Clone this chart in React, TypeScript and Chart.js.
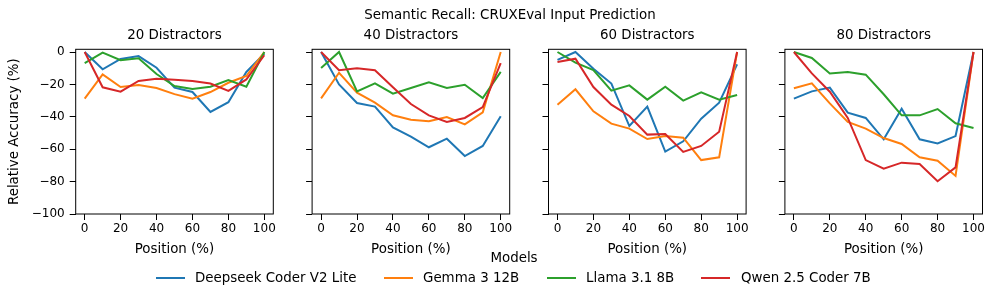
import React, { useEffect, useRef } from "react";
import { Chart, registerables } from "chart.js";

Chart.register(...registerables);

// ---------- data ----------
const positions = [0, 10, 20, 30, 40, 50, 60, 70, 80, 90, 100];
const xTicks = [0, 20, 40, 60, 80, 100];
const yTicks = [-100, -80, -60, -40, -20, 0];
const panelTitles = ["20 Distractors", "40 Distractors", "60 Distractors", "80 Distractors"];
const modelNames = ["Deepseek Coder V2 Lite", "Gemma 3 12B", "Llama 3.1 8B", "Qwen 2.5 Coder 7B"];
const modelColors = ["#1f77b4", "#ff7f0e", "#2ca02c", "#d62728"];

const deepseek20 = [0, -10.7, -4.3, -2.5, -9.7, -22, -24.7, -37, -31, -12.3, -1];
const gemma20 = [-28.8, -13.8, -21.6, -20.4, -22.2, -26, -28.8, -24.7, -19, -14.8, 0];
const llama20 = [-6.8, -0.4, -5.1, -3.9, -13.6, -21, -22.8, -21.4, -17.3, -21.4, 0];
const qwen20 = [0, -21.8, -24.5, -17.9, -16.5, -17.1, -17.9, -19.5, -24, -16.9, -2];

const deepseek40 = [0, -20, -31.5, -33.7, -46.5, -52.3, -58.8, -53.5, -64.2, -58, -39.7];
const gemma40 = [-28.6, -12.8, -25.1, -31.3, -39.1, -41.8, -42.8, -40.1, -44.7, -37.2, 0];
const llama40 = [-9.9, 0, -24.3, -19.3, -25.7, -22.2, -18.7, -22.2, -20.2, -28.4, -12.3];
const qwen40 = [0, -11.3, -10.1, -11.3, -21.8, -32.1, -39.1, -43.2, -40.7, -34, -6.8];

const deepseek60 = [-4.9, 0, -10.3, -19.5, -45.7, -33.7, -61.5, -55.1, -41.2, -31.3, -7.6];
const gemma60 = [-32.5, -23, -36.6, -44.2, -47.3, -53.7, -51.9, -52.9, -66.7, -65, 0];
const llama60 = [0, -6.6, -11.1, -23.9, -20.6, -29.4, -21.4, -30, -24.9, -29.4, -26.5];
const qwen60 = [-6.2, -4.1, -21.6, -32.5, -39.5, -51, -50.6, -61.7, -58, -49.2, 0];

const deepseek80 = [-28.8, -24.3, -22, -37.4, -40.7, -53.9, -35, -53.9, -56.4, -51.9, 0];
const gemma80 = [-22.4, -19.3, -31.7, -43.2, -47.3, -53.1, -56.8, -65, -67.1, -76.5, 0];
const llama80 = [0, -3.7, -13.2, -12.3, -14, -26.1, -39.1, -39.1, -35.2, -44, -46.9];
const qwen80 = [0, -13.2, -24.5, -40.7, -66.7, -72, -68.3, -69.1, -79.8, -71.2, 0];

const panelSeries = [
  [deepseek20, gemma20, llama20, qwen20],
  [deepseek40, gemma40, llama40, qwen40],
  [deepseek60, gemma60, llama60, qwen60],
  [deepseek80, gemma80, llama80, qwen80],
];

// ---------- layout ----------
const FONT = "'DejaVu Sans', sans-serif";
const LABEL_SIZE = 13.4;
const TICK_SIZE = 12;
const CANVAS_H = 270;
const PLOT_TOP = 49.3;
const PLOT_BOTTOM = 214;
const PLOT_W = 197.6;
const FIRST_LEFT = 75.7;
const PANEL_STEP = 236.4;

const fmt = (v: number) => (v < 0 ? "\u2212" + Math.abs(v) : String(v));

const framePlugin = {
  id: "frame",
  afterDraw(chart: any, _args: any, opts: any) {
    const { ctx, chartArea: a } = chart;
    ctx.save();
    ctx.strokeStyle = "#000";
    ctx.lineWidth = 1;
    ctx.strokeRect(a.left, a.top, a.right - a.left, a.bottom - a.top);
    ctx.fillStyle = "#000";
    ctx.font = `${LABEL_SIZE}px ${FONT}`;
    ctx.textAlign = "center";
    ctx.textBaseline = "middle";
    ctx.fillText(opts.title, (a.left + a.right) / 2, opts.titleY);
    ctx.restore();
  },
};

function geom(i: number) {
  const L = FIRST_LEFT + i * PANEL_STEP;
  const canvasLeft = i === 0 ? 0 : Math.floor(L) - 12;
  const yw = L - canvasLeft;
  const canvasW = Math.ceil(L + PLOT_W + 14) - canvasLeft;
  const padRight = canvasW - yw - PLOT_W;
  return { canvasLeft, yw, canvasW, padRight };
}

export default function App() {
  const refs = [useRef<HTMLCanvasElement>(null), useRef<HTMLCanvasElement>(null), useRef<HTMLCanvasElement>(null), useRef<HTMLCanvasElement>(null)];

  useEffect(() => {
    const charts: Chart[] = [];
    panelSeries.forEach((series, i) => {
      const canvas = refs[i].current;
      if (!canvas) return;
      const g = geom(i);
      const chart = new Chart(canvas, {
        type: "line",
        data: {
          datasets: series.map((vals, k) => ({
            label: modelNames[k],
            data: positions.map((p, j) => ({ x: p, y: vals[j] })),
            borderColor: modelColors[k],
            backgroundColor: modelColors[k],
            borderWidth: 2,
            pointRadius: 0,
            tension: 0,
            fill: false,
            order: 3 - k,
          })),
        },
        options: {
          responsive: false,
          animation: false,
          devicePixelRatio: 1,
          events: [],
          layout: { padding: { left: 0, right: g.padRight, top: PLOT_TOP, bottom: 0 } },
          plugins: {
            legend: { display: false },
            tooltip: { enabled: false },
            title: { display: false },
            frame: { title: panelTitles[i], titleY: 36 },
          } as any,
          scales: {
            x: {
              type: "linear",
              min: -5,
              max: 105,
              afterBuildTicks: (s: any) => {
                s.ticks = xTicks.map((v) => ({ value: v }));
              },
              afterFit: (s: any) => {
                s.height = CANVAS_H - PLOT_BOTTOM;
              },
              grid: { display: true, drawOnChartArea: false, drawTicks: true, tickLength: 6, color: "#000", lineWidth: 1 },
              border: { display: false },
              ticks: {
                autoSkip: false,
                maxRotation: 0,
                padding: 2,
                color: "#000",
                font: { family: FONT, size: TICK_SIZE },
                callback: (v: any) => fmt(Number(v)),
              },
              title: {
                display: true,
                text: "Position (%)",
                color: "#000",
                font: { family: FONT, size: LABEL_SIZE },
                padding: { top: 12.7, bottom: 12.7 },
              },
            },
            y: {
              type: "linear",
              min: -100,
              max: 1.67,
              afterBuildTicks: (s: any) => {
                s.ticks = yTicks.map((v) => ({ value: v }));
              },
              afterFit: (s: any) => {
                s.width = g.yw;
              },
              grid: { display: true, drawOnChartArea: false, drawTicks: true, tickLength: 6, color: "#000", lineWidth: 1 },
              border: { display: false },
              ticks: {
                display: i === 0,
                padding: 5,
                color: "#000",
                font: { family: FONT, size: TICK_SIZE },
                callback: (v: any) => fmt(Number(v)),
              },
              title: {
                display: i === 0,
                text: "Relative Accuracy (%)",
                color: "#000",
                font: { family: FONT, size: LABEL_SIZE },
                padding: { top: 6, bottom: 6 },
              },
            },
          },
        },
        plugins: [framePlugin],
      } as any);
      charts.push(chart);
    });
    return () => charts.forEach((c) => c.destroy());
  }, []);

  const textStyle = (left: number, top: number, extra: any = {}) => ({
    position: "absolute" as const,
    left,
    top,
    height: 20,
    lineHeight: "20px",
    fontFamily: FONT,
    fontSize: LABEL_SIZE,
    color: "#000",
    whiteSpace: "nowrap" as const,
    ...extra,
  });

  const swatchLefts = [156, 384, 547, 701];
  const textLefts = [195, 423, 586, 741];

  return (
    <div style={{ position: "absolute", left: 0, top: 0, width: 997, height: 301, background: "#fff", overflow: "hidden" }}>
      {panelSeries.map((_, i) => {
        const g = geom(i);
        return (
          <canvas
            key={i}
            ref={refs[i]}
            width={g.canvasW}
            height={CANVAS_H}
            style={{ position: "absolute", left: g.canvasLeft, top: 0, width: g.canvasW, height: CANVAS_H }}
          />
        );
      })}
      <div style={textStyle(310, 5, { width: 400, textAlign: "center" })}>Semantic Recall: CRUXEval Input Prediction</div>
      <div style={textStyle(414, 248, { width: 200, textAlign: "center" })}>Models</div>
      {modelNames.map((name, k) => (
        <React.Fragment key={name}>
          <div
            style={{
              position: "absolute",
              left: swatchLefts[k],
              top: 277,
              width: 29,
              height: 2,
              background: modelColors[k],
            }}
          />
          <div style={textStyle(textLefts[k], 268)}>{name}</div>
        </React.Fragment>
      ))}
    </div>
  );
}
